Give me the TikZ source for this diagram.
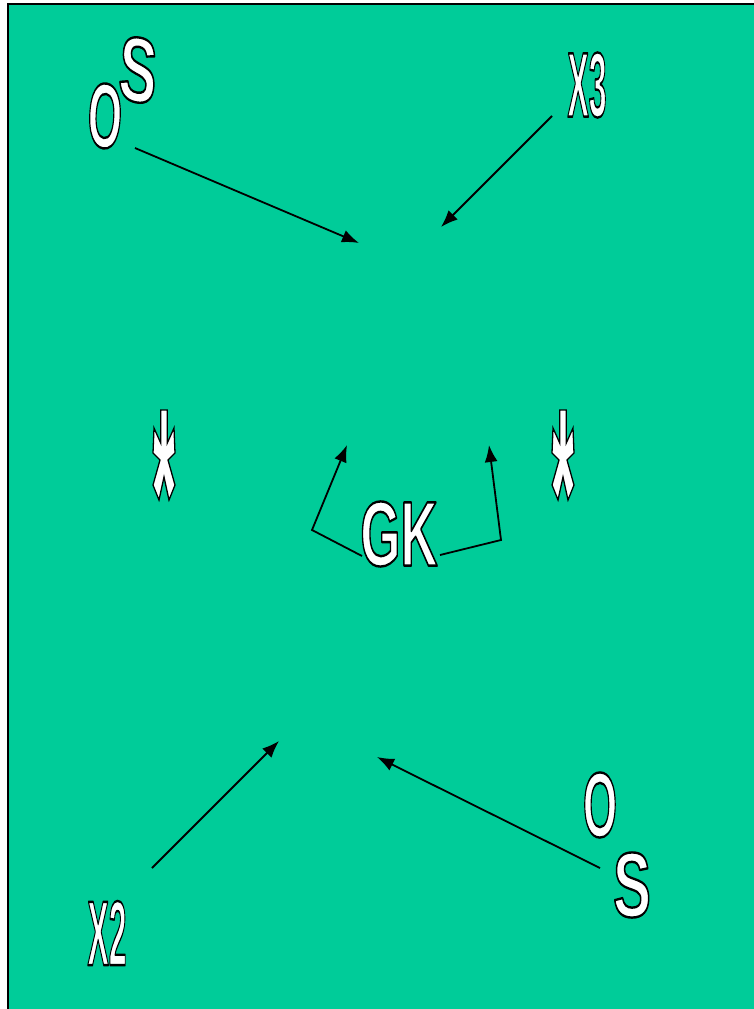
\documentclass[tikz,border=0pt]{standalone}
\usepackage{fontspec}
\setmainfont{Liberation Sans}
\usetikzlibrary{arrows.meta}
\definecolor{pitch}{RGB}{0,204,153}
% white letters with a black outline
\newcommand{\plabel}[1]{{\color{white}\special{pdf:literal direct 0 G 2.4 w 1 j 2 Tr}#1\special{pdf:literal direct 0 Tr}}}

\begin{document}
\begin{tikzpicture}[x=1pt,y=-1pt,>={Latex[length=17pt,width=13pt]},
	player/.style={font=\fontsize{92}{92}\selectfont\bfseries, xscale=0.56, inner sep=0pt},
	run/.style={->, line width=1.8pt}]
	\useasboundingbox (0,0) rectangle (753,1009);
	\draw[line width=2.5pt, fill=pitch] (8,4) rectangle (800,1060);
	
	% Players
	\node[player, rotate=-6, xscale=0.85] (o1) at (105,116) {\plabel{O}};
	\node[player, rotate=-6, xscale=1.1] (s1) at (138,70) {\plabel{S}};
	\node[player, xscale=0.62] (x3) at (587,85) {\plabel{X3}};
	\node[player] (gk) at (399,534) {\plabel{GK}};
	\node[player, xscale=0.85] (o2) at (600,805) {\plabel{O}};
	\node[player, xscale=1.1] (s2) at (632,885) {\plabel{S}};
	\node[player, xscale=0.62] (x2) at (107,933) {\plabel{X2}};
	
	% Posts
	\foreach \px in {164,563}
		\draw[line width=1.3pt, fill=white, shift={(\px,410)}]
			(-3.3,0) -- (3.3,0) -- (3.3,33) -- (10,18) -- (11,43) -- (4,50) -- (11,75)
			-- (5,90) -- (0,67) -- (-5,90) -- (-11,75) -- (-4,50) -- (-11,43)
			-- (-10,18) -- (-3.3,33) -- cycle;
	
	% Runs
	\coordinate (o1from) at (135,148);
	\coordinate (o1to) at (359,243);
	\coordinate (x3from) at (552,116);
	\coordinate (x3to) at (441,227);
	\coordinate (x2from) at (152,868);
	\coordinate (x2to) at (279,741);
	\coordinate (o2from) at (600,868);
	\coordinate (o2to) at (377,757);
	\draw[run] (o1from) -- (o1to);
	\draw[run] (x3from) -- (x3to);
	\draw[run] (x2from) -- (x2to);
	\draw[run] (o2from) -- (o2to);
	
	% Goalkeeper moves
	\coordinate (gkl) at (362,556);
	\coordinate (gklbend) at (312,530);
	\coordinate (gklto) at (347,445);
	\coordinate (gkr) at (440,555);
	\coordinate (gkrbend) at (501,540);
	\coordinate (gkrto) at (489,445);
	\draw[run] (gkl) -- (gklbend) -- (gklto);
	\draw[run] (gkr) -- (gkrbend) -- (gkrto);
\end{tikzpicture}
\end{document}
